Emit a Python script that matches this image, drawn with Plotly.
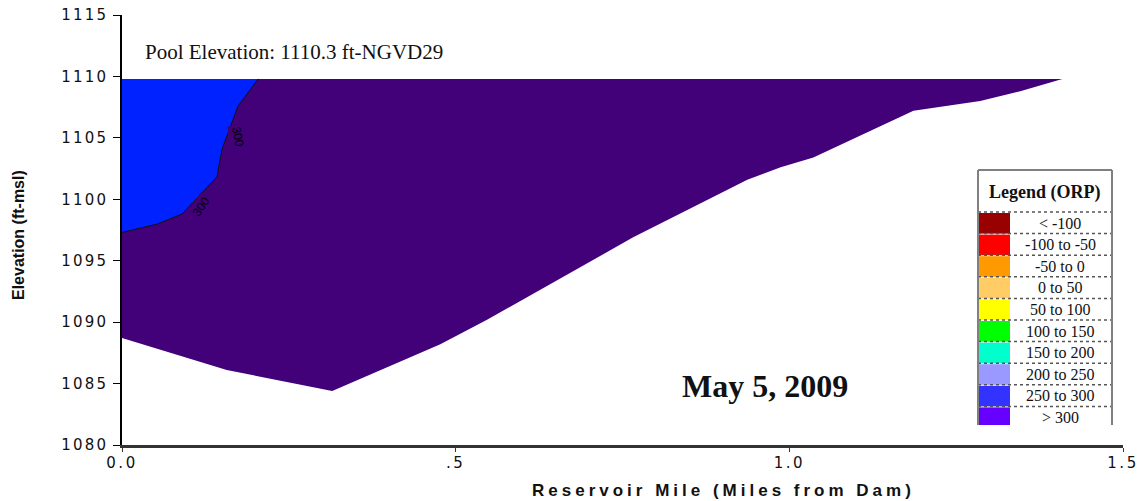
import plotly.graph_objects as go

# boundary of the wetted section (>300 region), miles from dam / elevation
POOL_TOP = 1109.8
bottom_mile = [0.0, 0.157, 0.315, 0.477, 0.547, 0.766, 0.937, 0.987, 1.036, 1.186, 1.286, 1.346, 1.409]
bottom_elev = [1088.7, 1086.1, 1084.4, 1088.2, 1090.2, 1096.9, 1101.6, 1102.6, 1103.4, 1107.2, 1108.0, 1108.8, 1109.8]

# 250-300 pocket near the dam (its lower edge is the 300 contour)
contour_mile = [0.0, 0.052, 0.09, 0.142, 0.15, 0.162, 0.174, 0.196, 0.204]
contour_elev = [1097.3, 1097.97, 1098.8, 1101.8, 1104.1, 1105.9, 1107.6, 1109.2, 1109.8]

# contour labels
label_mile = [0.174, 0.118]
label_elev = [1105.1, 1099.4]
label_angle = [80, -55]

x_ticks = [0, 0.5, 1.0, 1.5]
x_tick_text = ["0.0", ".5", "1.0", "1.5"]
y_ticks = [1080, 1085, 1090, 1095, 1100, 1105, 1110, 1115]

legend_labels = ["< -100", "-100 to -50", "-50 to 0", "0 to 50", "50 to 100",
                 "100 to 150", "150 to 200", "200 to 250", "250 to 300", "> 300"]
legend_colors = ["#990000", "#ff0000", "#ff9900", "#ffcc66", "#ffff00",
                 "#00ff00", "#00ffcc", "#9999ff", "#3333ff", "#6600ff"]

PURPLE = "#420079"
BLUE = "#0022ff"

# plot area in pixels
L, R, T, B = 122, 1123, 15, 445


def px(x):
    return (x - L) / (R - L)


def py(y):
    return (B - y) / (B - T)


def spaced(text, gap=3):
    return f'<span style="letter-spacing:{gap}px">{text}</span>'


fig = go.Figure()

fig.add_trace(go.Scatter(
    x=[0.0, bottom_mile[-1]] + bottom_mile[::-1],
    y=[POOL_TOP, POOL_TOP] + bottom_elev[::-1],
    fill="toself", fillcolor=PURPLE, mode="lines",
    line={"width": 0}, hoverinfo="skip",
))
fig.add_trace(go.Scatter(
    x=[0.0] + contour_mile + [0.0],
    y=[POOL_TOP] + contour_elev + [POOL_TOP],
    fill="toself", fillcolor=BLUE, mode="lines",
    line={"width": 0}, hoverinfo="skip",
))
fig.add_trace(go.Scatter(
    x=contour_mile, y=contour_elev, mode="lines",
    line={"color": "#111111", "width": 1}, hoverinfo="skip",
))

for m, e, a in zip(label_mile, label_elev, label_angle):
    fig.add_annotation(x=m, y=e, text="300", showarrow=False, textangle=a,
                       xanchor="center", yanchor="middle",
                       font={"family": "Liberation Sans", "size": 12, "color": "black"},
                       bgcolor=PURPLE)

shapes = []
# legend box
lx0, lx1, ly0, ly1 = 978, 1112, 170, 425
sw_x1 = 1010
row_tops = [212 + i * 21.6 for i in range(len(legend_labels))]
shapes.append(dict(type="rect", xref="paper", yref="paper",
                   x0=px(lx0), x1=px(lx1), y0=py(ly1), y1=py(ly0),
                   fillcolor="white", line={"width": 0}, layer="above"))
for i, (lab, col) in enumerate(zip(legend_labels, legend_colors)):
    top = row_tops[i]
    bot = min(top + 21.6, ly1)
    shapes.append(dict(type="rect", xref="paper", yref="paper",
                       x0=px(lx0), x1=px(sw_x1), y0=py(bot), y1=py(top + 1),
                       fillcolor=col, line={"width": 0}, layer="above"))
    shapes.append(dict(type="line", xref="paper", yref="paper",
                       x0=px(lx0), x1=px(lx1), y0=py(top), y1=py(top),
                       line={"color": "#555555", "width": 1.5, "dash": "dot"}, layer="above"))
    fig.add_annotation(xref="paper", yref="paper", x=px(1060), y=py(top + 11),
                       text=lab, showarrow=False, xanchor="center", yanchor="middle",
                       font={"family": "Liberation Serif", "size": 16, "color": "#111111"})
for xx in (lx0, lx1):
    shapes.append(dict(type="line", xref="paper", yref="paper",
                       x0=px(xx), x1=px(xx), y0=py(ly1), y1=py(ly0),
                       line={"color": "#808080", "width": 2}, layer="above"))
shapes.append(dict(type="line", xref="paper", yref="paper",
                   x0=px(lx0), x1=px(lx1), y0=py(ly0), y1=py(ly0),
                   line={"color": "#808080", "width": 2}, layer="above"))

fig.add_annotation(xref="paper", yref="paper", x=px(1045), y=py(192),
                   text="<b>Legend (ORP)</b>", showarrow=False,
                   xanchor="center", yanchor="middle",
                   font={"family": "Liberation Serif", "size": 18, "color": "#111111"})

fig.add_annotation(xref="paper", yref="paper", x=px(143), y=py(52),
                   text="Pool Elevation: 1110.3 ft-NGVD29", showarrow=False,
                   xanchor="left", yanchor="middle",
                   font={"family": "Liberation Serif", "size": 21, "color": "#111111"})
fig.add_annotation(xref="paper", yref="paper", x=px(765), y=py(386),
                   text="<b>May 5, 2009</b>", showarrow=False,
                   xanchor="center", yanchor="middle",
                   font={"family": "Liberation Serif", "size": 32, "color": "#111111"})

fig.add_annotation(xref="paper", yref="paper", x=px(18), y=py(235),
                   text="<b>Elevation (ft-msl)</b>", showarrow=False, textangle=-90,
                   xanchor="center", yanchor="middle",
                   font={"family": "Liberation Sans Narrow, Liberation Sans", "size": 16, "color": "#111111"})
fig.add_annotation(xref="paper", yref="paper", x=px(723), y=py(490),
                   text="<b>" + spaced("Reservoir Mile (Miles from Dam)", 4) + "</b>",
                   showarrow=False, xanchor="center", yanchor="middle",
                   font={"family": "Liberation Sans", "size": 17, "color": "#111111"})

tick_font = {"family": "DejaVu Sans", "size": 15, "color": "#111111"}
fig.update_layout(
    width=1142, height=501,
    margin={"l": L, "r": 1142 - R, "t": T, "b": 501 - B},
    paper_bgcolor="white", plot_bgcolor="white",
    showlegend=False, shapes=shapes,
    xaxis={"range": [0, 1.5], "tickvals": x_ticks, "automargin": False,
           "ticktext": [spaced(t, 2.5) for t in x_tick_text], "showgrid": False, "zeroline": False,
           "showline": True, "linecolor": "#333333", "linewidth": 3, "ticklabelstandoff": -2,
           "ticks": "outside", "ticklen": 4, "tickcolor": "#333333", "tickfont": tick_font},
    yaxis={"range": [1080, 1115], "tickvals": y_ticks,
           "ticktext": [spaced(str(v), 2.2) for v in y_ticks],
           "showgrid": False, "zeroline": False,
           "automargin": False, "ticklabelstandoff": 2,
           "showline": True, "linecolor": "black", "linewidth": 1.5,
           "ticks": "outside", "ticklen": 7, "tickcolor": "black", "tickfont": tick_font},
)

fig.write_html("out.html", config={"displayModeBar": False},
               post_script="document.body.style.margin = '0px';")
